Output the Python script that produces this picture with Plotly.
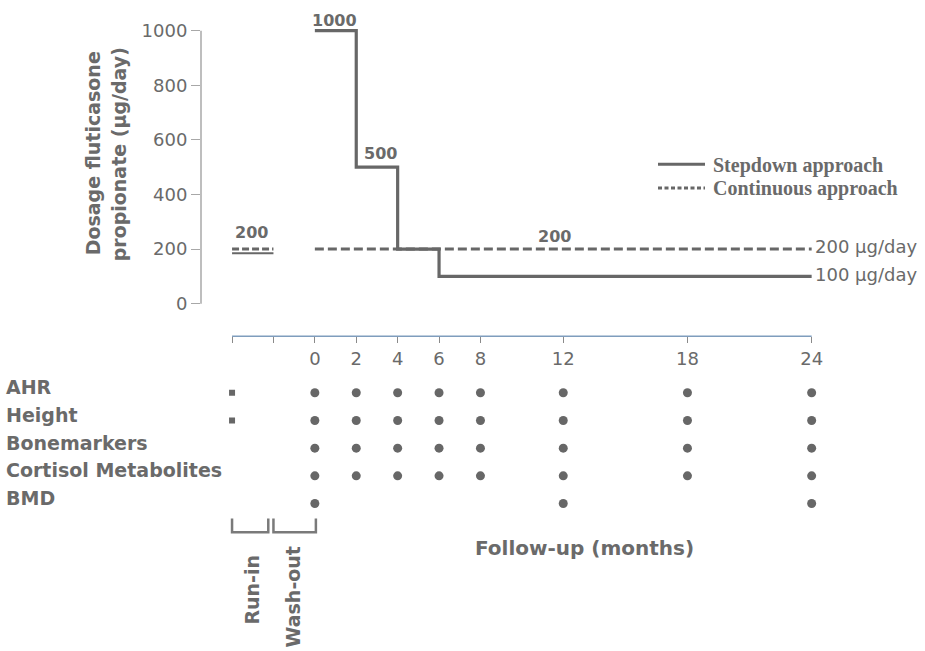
import plotly.graph_objects as go

# ---------------- data ----------------
step_months = [0, 2, 4, 6, 24]
step_dose = [1000, 500, 200, 100, 100]
cont_months = [0, 24]
cont_dose = [200, 200]
runin_months = [-4, -2]
runin_cont_dose = [200, 200]
runin_step_dose = [185, 185]

dose_ticks = [0, 200, 400, 600, 800, 1000]
month_ticks = [-4, -2, 0, 2, 4, 6, 8, 12, 18, 24]
month_tick_labels = ["", "", "0", "2", "4", "6", "8", "12", "18", "24"]

# dose value labels (month, dose, text)
label_months = [0.93, 3.16, 11.6, -3.04]
label_doses = [1000, 500, 200, 200]
label_texts = ["1000", "500", "200", "200"]

rows = ["AHR", "Height", "Bonemarkers", "Cortisol Metabolites", "BMD"]
ahr_visits = [-4, 0, 2, 4, 6, 8, 12, 18, 24]
height_visits = [-4, 0, 2, 4, 6, 8, 12, 18, 24]
bone_visits = [0, 2, 4, 6, 8, 12, 18, 24]
cortisol_visits = [0, 2, 4, 6, 8, 12, 18, 24]
bmd_visits = [0, 12, 24]
visits = [ahr_visits, height_visits, bone_visits, cortisol_visits, bmd_visits]

# ---------------- layout helpers ----------------
W, H = 925, 651
L, R = 201, 103
PW = W - L - R


def px(xp):
    return (xp - L) / PW


def py(yp):
    return 1 - yp / H


GREY = "#676767"
TXT = "#6a6a6a"
SANS = "DejaVu Sans"
SERIF = "Liberation Serif"

fig = go.Figure()

# stepdown approach
fig.add_trace(go.Scatter(x=step_months, y=step_dose, mode="lines", line_shape="hv",
                         line=dict(color=GREY, width=3.2), showlegend=False,
                         hoverinfo="skip"))
# continuous approach
fig.add_trace(go.Scatter(x=cont_months, y=cont_dose, mode="lines",
                         line=dict(color=GREY, width=3, dash="9px,4px"), showlegend=False,
                         hoverinfo="skip"))
# run-in
fig.add_trace(go.Scatter(x=runin_months, y=runin_cont_dose, mode="lines",
                         line=dict(color=GREY, width=3, dash="7px,3px"), showlegend=False,
                         hoverinfo="skip"))
fig.add_trace(go.Scatter(x=runin_months, y=runin_step_dose, mode="lines",
                         line=dict(color=GREY, width=2), showlegend=False,
                         hoverinfo="skip"))

# schedule dots
n = len(rows)
for i, (name, v) in enumerate(zip(rows, visits)):
    rowpos = n - i
    main = [m for m in v if m >= 0]
    pre = [m for m in v if m < 0]
    fig.add_trace(go.Scatter(x=main, y=[rowpos] * len(main), yaxis="y2", mode="markers",
                             marker=dict(color=GREY, size=9), showlegend=False,
                             hoverinfo="skip"))
    if pre:
        fig.add_trace(go.Scatter(x=pre, y=[rowpos] * len(pre), yaxis="y2", mode="markers",
                                 marker=dict(color=GREY, size=6, symbol="square"),
                                 showlegend=False, hoverinfo="skip"))

annotations = []
shapes = []


def ann(**kw):
    kw.setdefault("showarrow", False)
    kw.setdefault("xanchor", "center")
    kw.setdefault("yanchor", "middle")
    annotations.append(kw)


# value labels
yshifts = [10, 14, 13, 17]
for m, d, t, ys in zip(label_months, label_doses, label_texts, yshifts):
    ann(x=m, y=d, xref="x", yref="y", text=t, yshift=ys,
        font=dict(family=SANS, size=16, color=TXT, weight="bold"))

# end labels
ann(x=cont_months[-1], y=cont_dose[-1], xref="x", yref="y", text="200 µg/day",
    xanchor="left", xshift=1, yshift=3, font=dict(family=SANS, size=18, color=TXT))
ann(x=step_months[-1], y=step_dose[-1], xref="x", yref="y", text="100 µg/day",
    xanchor="left", xshift=1, yshift=2, font=dict(family=SANS, size=18, color=TXT))

# y-axis title (two rotated lines)
ann(x=px(93), y=py(153), xref="paper", yref="paper", text="Dosage fluticasone",
    textangle=-90, font=dict(family=SANS, size=19, color=TXT, weight="bold"))
ann(x=px(119), y=py(154), xref="paper", yref="paper", text="propionate (µg/day)",
    textangle=-90, font=dict(family=SANS, size=19, color=TXT, weight="bold"))

# legend
shapes.append(dict(type="line", xref="paper", yref="paper", x0=px(658), x1=px(705),
                   y0=py(164), y1=py(164), line=dict(color=GREY, width=3)))
shapes.append(dict(type="line", xref="paper", yref="paper", x0=px(658), x1=px(705),
                   y0=py(188), y1=py(188), line=dict(color=GREY, width=3, dash="4px,2.5px")))
ann(x=px(711), y=py(165), xref="paper", yref="paper", xanchor="left",
    text="Stepdown approach", font=dict(family=SERIF, size=20, color=TXT, weight="bold"))
ann(x=px(711), y=py(189), xref="paper", yref="paper", xanchor="left",
    text="Continuous approach", font=dict(family=SERIF, size=20, color=TXT, weight="bold"))

# row labels
for i, name in enumerate(rows):
    ann(x=px(4), y=n - i + 0.2, xref="paper", yref="y2", xanchor="left", text=name,
        font=dict(family=SANS, size=19, color=TXT, weight="bold"))

# y axis line (0..1000)
shapes.append(dict(type="line", xref="paper", yref="y", x0=0, x1=0, y0=dose_ticks[0],
                   y1=dose_ticks[-1], line=dict(color="#a8a8a8", width=1.5)))
# follow-up axis line
shapes.append(dict(type="line", xref="x", yref="paper", x0=month_ticks[0], x1=month_ticks[-1],
                   y0=py(338), y1=py(338), line=dict(color="#7f9dbd", width=1.5)))

# brackets
for x0, x1 in [(-4, -2.25), (-2, 0.05)]:
    shapes.append(dict(type="path", xref="x", yref="paper",
                       path=f"M {x0},{py(522)} L {x0},{py(536)} L {x1},{py(536)} L {x1},{py(522)}",
                       line=dict(color="#7a7a7a", width=2.5)))

ann(x=px(252), y=py(594), xref="paper", yref="paper", text="Run-in", textangle=-90,
    font=dict(family=SANS, size=19, color=TXT, weight="bold"))
ann(x=px(293), y=py(601), xref="paper", yref="paper", text="Wash-out", textangle=-90,
    font=dict(family=SANS, size=19, color=TXT, weight="bold"))
ann(x=px(584), y=py(552), xref="paper", yref="paper", text="Follow-up (months)",
    font=dict(family=SANS, size=20, color=TXT, weight="bold"))

fig.update_layout(
    width=W, height=H,
    margin=dict(l=L, r=R, t=0, b=0),
    paper_bgcolor="white", plot_bgcolor="white",
    xaxis=dict(range=[-5.5, 24.5], anchor="free", position=py(338),
               tickvals=month_ticks, ticktext=month_tick_labels,
               ticks="outside", ticklen=6, tickwidth=1.2, tickcolor="#8a8a8a",
               showline=False, showgrid=False, zeroline=False,
               tickfont=dict(family=SANS, size=18, color=TXT)),
    yaxis=dict(domain=[py(310.52), py(20.72)], range=[-20, 1030],
               tickvals=dose_ticks, ticks="outside", ticklen=9, tickwidth=1.2,
               tickcolor="#a8a8a8", showline=False, showgrid=False, zeroline=False,
               tickfont=dict(family=SANS, size=18, color=TXT)),
    yaxis2=dict(domain=[py(521), py(381)], range=[0.5, 5.5], anchor="x", visible=False),
    annotations=annotations,
    shapes=shapes,
)

fig.write_html("out.html", config={"displayModeBar": False},
               post_script="document.body.style.margin='0';")
